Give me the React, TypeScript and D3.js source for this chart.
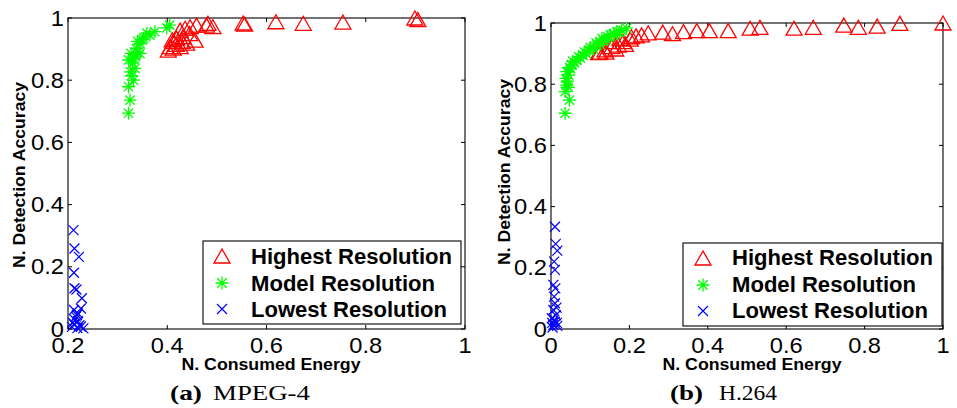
import React from "react";
import * as d3 from "d3";

// ---- Data ----
const mpegHigh: [number, number][] = [
  [0.402, 0.897], [0.406, 0.908], [0.412, 0.903], [0.412, 0.924], [0.419, 0.935],
  [0.426, 0.908], [0.426, 0.961], [0.432, 0.94], [0.436, 0.967], [0.439, 0.919],
  [0.446, 0.972], [0.456, 0.929], [0.459, 0.977], [0.479, 0.977], [0.482, 0.983],
  [0.492, 0.972], [0.418, 0.915], [0.43, 0.925], [0.445, 0.95], [0.41, 0.93],
  [0.553, 0.984], [0.556, 0.98], [0.619, 0.988], [0.674, 0.983], [0.754, 0.987],
  [0.899, 1.0], [0.905, 0.995],
];
const mpegModel: [number, number][] = [
  [0.322, 0.694], [0.325, 0.736], [0.322, 0.779], [0.332, 0.8], [0.326, 0.827],
  [0.335, 0.838], [0.322, 0.865], [0.332, 0.87], [0.327, 0.886], [0.345, 0.886],
  [0.338, 0.902], [0.33, 0.855], [0.345, 0.918], [0.352, 0.935], [0.34, 0.925],
  [0.359, 0.951], [0.375, 0.956], [0.365, 0.945], [0.399, 0.968], [0.405, 0.977],
  [0.328, 0.815], [0.336, 0.875], [0.34, 0.89], [0.35, 0.93],
];
const mpegLow: [number, number][] = [
  [0.211, 0.318], [0.213, 0.259], [0.222, 0.232], [0.212, 0.181], [0.213, 0.131],
  [0.217, 0.127], [0.228, 0.099], [0.226, 0.066], [0.212, 0.061], [0.218, 0.045],
  [0.214, 0.029], [0.22, 0.025], [0.208, 0.007], [0.231, 0.002], [0.219, 0.003],
  [0.212, 0.015], [0.223, 0.012], [0.216, 0.04], [0.226, 0.008], [0.21, 0.02],
  [0.22, 0.05],
];
const h264High: [number, number][] = [
  [0.121, 0.903], [0.125, 0.905], [0.138, 0.912], [0.14, 0.905], [0.155, 0.923],
  [0.158, 0.939], [0.165, 0.915], [0.172, 0.928], [0.176, 0.95], [0.184, 0.939],
  [0.19, 0.93], [0.202, 0.947], [0.205, 0.955], [0.217, 0.958], [0.231, 0.961],
  [0.248, 0.968], [0.285, 0.97], [0.31, 0.965], [0.338, 0.972], [0.372, 0.975],
  [0.404, 0.975], [0.452, 0.975], [0.508, 0.983], [0.533, 0.986], [0.62, 0.983],
  [0.669, 0.986], [0.747, 0.993], [0.784, 0.986], [0.832, 0.99], [0.89, 0.999],
  [1.0, 1.0],
];
const h264Model: [number, number][] = [
  [0.036, 0.705], [0.047, 0.748], [0.036, 0.776], [0.04, 0.797], [0.038, 0.819],
  [0.04, 0.841], [0.045, 0.83], [0.053, 0.863], [0.048, 0.855], [0.06, 0.87],
  [0.066, 0.879], [0.075, 0.885], [0.082, 0.895], [0.09, 0.9], [0.099, 0.912],
  [0.108, 0.915], [0.117, 0.928], [0.125, 0.93], [0.133, 0.944], [0.142, 0.945],
  [0.151, 0.961], [0.16, 0.96], [0.168, 0.972], [0.18, 0.975], [0.193, 0.983],
  [0.055, 0.875], [0.07, 0.89], [0.085, 0.905], [0.1, 0.92], [0.115, 0.935],
  [0.13, 0.95], [0.145, 0.955], [0.16, 0.965], [0.175, 0.97], [0.042, 0.81],
  [0.044, 0.79], [0.05, 0.85],
];
const h264Low: [number, number][] = [
  [0.01, 0.334], [0.012, 0.278], [0.016, 0.256], [0.008, 0.22], [0.01, 0.193],
  [0.006, 0.144], [0.011, 0.133], [0.008, 0.106], [0.01, 0.084], [0.006, 0.062],
  [0.014, 0.07], [0.002, 0.035], [0.01, 0.024], [0.006, 0.013], [0.015, 0.02],
  [0.004, 0.005], [0.012, 0.045], [0.008, 0.03], [0.003, 0.02], [0.016, 0.01],
];

const xTicksA = [0.2, 0.4, 0.6, 0.8, 1];
const xTicksB = [0, 0.2, 0.4, 0.6, 0.8, 1];
const yTicks = [0, 0.2, 0.4, 0.6, 0.8, 1];
const legendLabels = ["Highest Resolution", "Model Resolution", "Lowest Resolution"];
const xLabel = "N. Consumed Energy";
const yLabel = "N. Detection Accuracy";
const captionA = ["(a)", "MPEG-4"];
const captionB = ["(b)", "H.264"];

const RED = "#ff0000";
const GREEN = "#00ff00";
const BLUE = "#0000ff";
const SANS = "'Liberation Sans', Arial, Helvetica, sans-serif";
const SERIF = "'Liberation Serif', 'Times New Roman', serif";

const fmt = (v: number) => (v === 0 ? "0" : v === 1 ? "1" : v.toFixed(1));

function Tri({ x, y }: { x: number; y: number }) {
  return (
    <path
      d={`M${x},${y - 7}L${x + 8},${y + 7}L${x - 8},${y + 7}Z`}
      fill="none"
      stroke={RED}
      strokeWidth={1.3}
    />
  );
}
function Star({ x, y }: { x: number; y: number }) {
  const r = 6.5;
  const d = r * 0.72;
  return (
    <path
      d={`M${x - r},${y}H${x + r}M${x},${y - r}V${y + r}M${x - d},${y - d}L${x + d},${y + d}M${x - d},${y + d}L${x + d},${y - d}`}
      stroke={GREEN}
      strokeWidth={1.3}
      fill="none"
    />
  );
}
function Cross({ x, y }: { x: number; y: number }) {
  const r = 5;
  return (
    <path
      d={`M${x - r},${y - r}L${x + r},${y + r}M${x - r},${y + r}L${x + r},${y - r}`}
      stroke={BLUE}
      strokeWidth={1.2}
      fill="none"
    />
  );
}

type PanelProps = {
  left: number; right: number; top: number; bottom: number;
  xDomain: [number, number]; xTicks: number[];
  high: [number, number][]; model: [number, number][]; low: [number, number][];
  legend: { x0: number; y0: number; x1: number; y1: number; mx: number; tx: number; rows: number[]; base: number[] };
  yLabelX: number; yLabelY: number; xLabelX: number;
  caption: string[]; capX: number[]; capW: number[];
};

function Panel(p: PanelProps) {
  const x = d3.scaleLinear().domain(p.xDomain).range([p.left, p.right]);
  const y = d3.scaleLinear().domain([0, 1]).range([p.bottom, p.top]);
  const tl = 4;
  const Markers = [Tri, Star, Cross];
  const fs = 21.5;
  const sx = 1.1;
  return (
    <g>
      {/* axes box */}
      <rect x={p.left} y={p.top} width={p.right - p.left} height={p.bottom - p.top} fill="white" stroke="black" strokeWidth={1.1} />
      {p.xTicks.map((t) => (
        <g key={"xt" + t}>
          <line x1={x(t)} x2={x(t)} y1={p.bottom} y2={p.bottom - tl} stroke="black" />
          <line x1={x(t)} x2={x(t)} y1={p.top} y2={p.top + tl} stroke="black" />
          <text x={x(t)} y={p.bottom + 24} textAnchor="middle" fontFamily={SANS} fontSize={fs}
            transform={`translate(${x(t)},0) scale(${sx},1) translate(${-x(t)},0)`}>{fmt(t)}</text>
        </g>
      ))}
      {yTicks.map((t) => (
        <g key={"yt" + t}>
          <line x1={p.left} x2={p.left + tl} y1={y(t)} y2={y(t)} stroke="black" />
          <line x1={p.right} x2={p.right - tl} y1={y(t)} y2={y(t)} stroke="black" />
          <text x={p.left - 4} y={y(t) + 7.6} textAnchor="end" fontFamily={SANS} fontSize={fs}
            transform={`translate(${p.left - 4},0) scale(${sx},1) translate(${-(p.left - 4)},0)`}>{fmt(t)}</text>
        </g>
      ))}
      {/* data */}
      {p.high.map((d, i) => <Tri key={"h" + i} x={x(d[0])} y={y(d[1])} />)}
      {p.model.map((d, i) => <Star key={"m" + i} x={x(d[0])} y={y(d[1])} />)}
      {p.low.map((d, i) => <Cross key={"l" + i} x={x(d[0])} y={y(d[1])} />)}
      {/* axis labels */}
      <text x={p.xLabelX} y={370} textAnchor="middle" fontFamily={SANS} fontWeight="bold" fontSize={16}
        textLength={179} lengthAdjust="spacingAndGlyphs">{xLabel}</text>
      <text transform={`translate(${p.yLabelX},${p.yLabelY}) rotate(-90)`} textAnchor="middle" fontFamily={SANS}
        fontWeight="bold" fontSize={16} textLength={186} lengthAdjust="spacingAndGlyphs">{yLabel}</text>
      {/* legend */}
      <rect x={p.legend.x0} y={p.legend.y0} width={p.legend.x1 - p.legend.x0} height={p.legend.y1 - p.legend.y0}
        fill="white" stroke="black" strokeWidth={1.1} />
      {legendLabels.map((lab, i) => {
        const M = Markers[i];
        return (
          <g key={lab}>
            <M x={p.legend.mx} y={p.legend.rows[i]} />
            <text x={p.legend.tx} y={p.legend.base[i]} fontFamily={SANS} fontWeight="bold" fontSize={21.5}
              textLength={i === 0 ? 201 : i === 1 ? 184 : 196} lengthAdjust="spacingAndGlyphs">{lab}</text>
          </g>
        );
      })}
      {/* caption */}
      <text x={p.capX[0]} y={400} fontFamily={SERIF} fontWeight="bold" fontSize={21}
        textLength={p.capW[0]} lengthAdjust="spacingAndGlyphs">{p.caption[0]}</text>
      <text x={p.capX[1]} y={400} fontFamily={SERIF} fontSize={20}
        textLength={p.capW[1]} lengthAdjust="spacingAndGlyphs">{p.caption[1]}</text>
    </g>
  );
}

export default function App() {
  return (
    <svg width={957} height={408} style={{ position: "absolute", left: 0, top: 0, background: "white" }}>
      <rect width={957} height={408} fill="white" />
      <Panel
        left={68} right={465} top={18} bottom={329}
        xDomain={[0.2, 1]} xTicks={xTicksA}
        high={mpegHigh} model={mpegModel} low={mpegLow}
        legend={{ x0: 203, y0: 241, x1: 461, y1: 324, mx: 222, tx: 251, rows: [256, 283, 309], base: [264, 291, 317] }}
        yLabelX={25} yLabelY={175} xLabelX={271}
        caption={captionA} capX={[170, 213]} capW={[32, 97]}
      />
      <Panel
        left={551} right={943} top={23} bottom={329}
        xDomain={[0, 1]} xTicks={xTicksB}
        high={h264High} model={h264Model} low={h264Low}
        legend={{ x0: 683, y0: 243, x1: 942, y1: 326, mx: 703, tx: 732, rows: [258, 285, 311], base: [265, 292, 318] }}
        yLabelX={510} yLabelY={172} xLabelX={752}
        caption={captionB} capX={[670, 719]} capW={[33, 58]}
      />
    </svg>
  );
}
